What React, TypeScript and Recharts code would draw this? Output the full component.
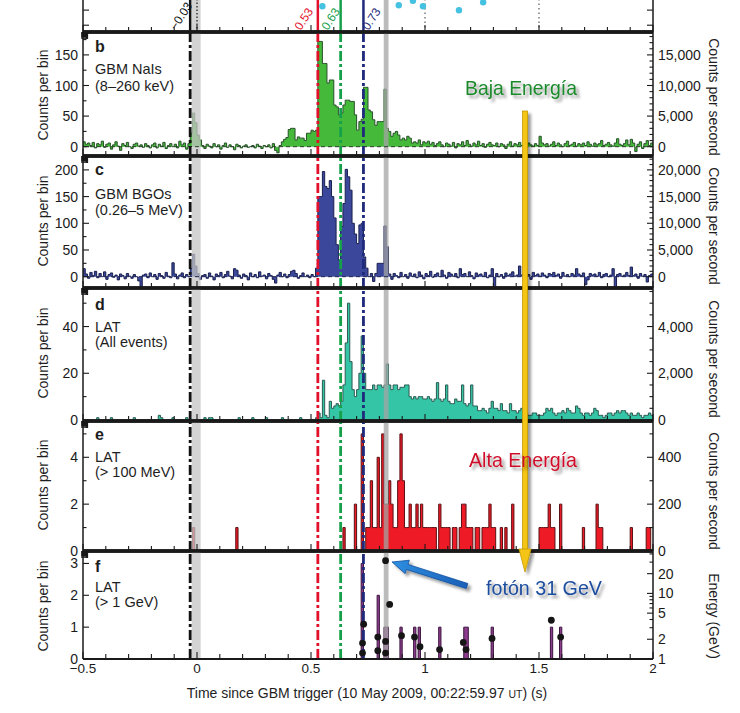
import React from 'react';
import { ComposedChart, Area, Scatter, XAxis, YAxis, ReferenceLine, ReferenceArea } from 'recharts';

const FONT = '"Liberation Sans", Arial, Helvetica, sans-serif';
const INK = '#1a1a1a';
const W = 740;
const H = 713;
const PLOT_LEFT = 83;
const PLOT_RIGHT = 653;
const PAD = 10;

// 10 ms bins starting at -0.5 s
const BIN_START = -0.5;
const BIN_WIDTH = 0.01;

// b: GBM NaIs, counts per bin
const naiCounts = [
  8, 4, 6, 2, 7, -2, 5, 3, 9, -1,
  4, 6, -4, 3, 8, 1, -6, 5, 2, 7,
  0, -3, 4, 6, 1, 3, -1, 5, 2, -2,
  3, 6, -2, 4, 1, 7, -3, 2, 5, 0,
  4, -2, 9, 3, 6, -4, 5, 22, 55, 39,
  19, 11, 2, -3, 4, 1, -2, 5, 0, 3,
  -4, 2, 6, -1, 3, 0, -5, 4, 2, -2,
  1, 3, -1, 0, 2, -2, 4, 1, -3, 2,
  0, 3, -2, 5, -6, -10, 2, 8, 12, 15,
  28, 30, 30, 11, 16, 14, 14, 10, 22, 22,
  27, 25, 27, 172, 172, 136, 136, 104, 109, 109,
  68, 65, 52, 55, 68, 76, 76, 74, 74, 52,
  27, 41, 45, 97, 97, 60, 57, 44, 35, 41,
  41, 41, 94, 30, 25, 17, 22, 25, 19, 11,
  14, 11, 17, 14, 6, 8, 6, 11, 3, 8,
  6, 9, 4, 7, 2, 5, 8, 3, 0, 6,
  4, 1, 7, -2, 5, 3, 8, 2, 10, 4,
  1, 6, 3, 9, 2, 5, -1, 4, 7, 3,
  2, 6, 0, 5, 3, -3, 4, 8, 1, 5,
  3, 7, 2, 4, -2, 6, 3, 1, 5, 2,
  17, 6, 3, 5, 1, 4, 8, 2, 6, 3,
  0, 5, 9, 2, 4, 7, 1, 5, 3, 6,
  2, 8, 4, 1, 6, 3, 5, 10, 2, 4,
  7, 3, 1, 6, 13, 4, 2, 5, 11, 3,
  12, 6, -8, 4, 8, -3, 5, 10, 2, 6,
];

// c: GBM BGOs, counts per bin
const bgoCounts = [
  15, 5, -3, 8, 2, 10, -2, 6, 0, 9,
  -5, 4, 7, -1, 3, -6, 5, 2, -4, 6,
  1, -3, 4, 0, -8, -20, 3, 5, -2, 7,
  0, 4, -5, 6, 2, -3, 8, 1, -2, 26,
  5, -4, 3, 7, -2, 4, 0, 15, 42, 20,
  6, -5, 2, 4, -3, 7, 1, -6, 5, 2,
  8, -2, 4, 10, 1, -4, 15, 12, 3, -3,
  5, 2, -6, 7, 0, 4, -2, 9, 1, 3,
  -4, 6, 2, -5, -12, 3, 8, 0, 5, -2,
  4, 10, 12, 6, -3, 2, 7, 0, 3, -2,
  4, 0, 16, 150, 150, 197, 169, 165, 180, 150,
  110, 60, 31, 94, 137, 201, 187, 162, 100, 80,
  62, 97, 100, 37, 16, 0, 6, -9, 6, 25,
  25, 25, 95, 56, 5, -5, 6, 2, -2, 8,
  0, 4, -3, 7, 1, 5, -2, 9, 3, -4,
  6, 2, 10, -1, 4, 7, 0, 12, 3, -3,
  8, 5, 1, 6, -2, 15, 4, 6, 0, 9,
  2, -4, 7, 3, 5, 1, 8, -2, 3, 15,
  -20, 6, 0, 4, -3, 7, 2, 5, 9, 1,
  3, 20, 3, 6, 0, 4, -5, 8, 2, 5,
  1, 7, 3, -2, 6, 4, 8, 2, 5, -3,
  8, 1, 4, 0, 6, 3, 15, 5, 2, 7,
  -15, -6, 6, 3, 5, 1, 8, -2, 4, 6,
  0, 3, 15, -20, 4, 6, 1, 3, 8, 2,
  18, 2, 5, -3, 6, 1, 4, -10, 2, 5,
];

// d: LAT all events, counts per bin
const latAllCounts = [
  0, 0, 0, 0, 0, 0, 1, 0, 0, 0,
  0, 0, 1, 0, 0, 0, 0, 0, 0, 0,
  0, 0, 1, 0, 0, 0, 0, 0, 0, 0,
  0, 0, 0, 2, 1, 0, 0, 0, 0, 1,
  0, 0, 0, 0, 0, 1, 0, 0, 0, 0,
  0, 0, 0, 1, 0, 1, 1, 0, 0, 0,
  0, 0, 0, 0, 0, 0, 0, 0, 1, 0,
  0, 0, 0, 0, 1, 0, 0, 0, 0, 0,
  1, 0, 0, 0, 0, 0, 0, 1, 0, 0,
  0, 0, 0, 0, 0, 1, 0, 0, 0, 0,
  0, 0, 1, 3, 1, 17, 2, 1, 8, 5,
  6, 7, 6, 8, 15, 33, 50, 25, 13, 10,
  13, 20, 36, 20, 13, 13, 13, 15, 13, 15,
  15, 14, 15, 24, 15, 13, 15, 15, 13, 14,
  14, 15, 15, 10, 9, 10, 9, 10, 10, 9,
  9, 10, 9, 8, 9, 16, 9, 8, 9, 15,
  8, 7, 7, 9, 8, 8, 15, 7, 6, 7,
  15, 6, 6, 4, 4, 5, 4, 3, 5, 8,
  5, 5, 4, 7, 4, 4, 3, 7, 4, 4,
  3, 4, 5, 3, 3, 2, 2, 3, 3, 2,
  2, 2, 3, 5, 4, 5, 3, 2, 3, 3,
  4, 3, 5, 4, 3, 3, 6, 5, 3, 2,
  3, 3, 2, 3, 5, 4, 2, 2, 1, 2,
  3, 3, 2, 3, 4, 3, 4, 4, 3, 2,
  3, 2, 2, 3, 2, 1, 2, 2, 3, 2,
];

// e: LAT > 100 MeV, bins with counts (bin start time, counts)
const lat100Times = [
  -0.02, 0.17, 0.64, 0.69, 0.72,
  0.74, 0.75, 0.76, 0.77, 0.78, 0.79, 0.8, 0.81, 0.82, 0.83, 0.84, 0.85, 0.86,
  0.87, 0.88, 0.89, 0.9, 0.91, 0.92, 0.93, 0.94, 0.95, 0.96, 0.97, 0.98, 0.99,
  1.0, 1.01, 1.02, 1.03, 1.04, 1.06, 1.07, 1.08, 1.09, 1.1, 1.12, 1.13,
  1.15, 1.16, 1.17, 1.18, 1.19, 1.2, 1.22, 1.23, 1.25, 1.26, 1.27, 1.28, 1.29, 1.3,
  1.33, 1.35, 1.38, 1.5, 1.51, 1.52, 1.53, 1.54, 1.55, 1.56, 1.59,
  1.69, 1.75, 1.76, 1.77, 1.9, 1.97, 1.98,
];
const lat100Counts = [
  1, 1, 1, 2, 5,
  1, 1, 3, 1, 1, 4, 1, 5, 2, 2, 3, 2, 1,
  1, 3, 5, 3, 1, 1, 2, 1, 1, 2, 1, 2, 1,
  1, 1, 1, 1, 1, 2, 1, 1, 1, 1, 1, 1,
  1, 2, 2, 1, 1, 1, 1, 1, 1, 1, 1, 2, 1, 1,
  1, 1, 2, 1, 1, 1, 1, 2, 1, 1, 2,
  1, 2, 1, 1, 1, 1, 1,
];

// f: LAT > 1 GeV
const lat1GeVTimes = [0.72, 0.79, 0.82, 0.83, 0.89, 0.95, 0.97, 1.06, 1.17, 1.18, 1.29, 1.55, 1.59];
const lat1GeVCounts = [3, 2, 1, 1, 1, 1, 1, 1, 1, 1, 1, 1, 1];
const photonTimes = [
  0.726, 0.726, 0.731, 0.793, 0.793, 0.827, 0.827, 0.827, 0.845,
  0.897, 0.954, 0.978, 1.064, 1.168, 1.18, 1.294, 1.554, 1.595,
];
const photonEnergies = [
  1.23, 1.75, 3.4, 1.34, 2.16, 1.23, 1.85, 31.5, 6.8,
  2.27, 2.16, 1.54, 1.39, 1.79, 1.39, 2.06, 3.9, 2.16,
];

// a: bottom strip of the panel above
const panelATimes = [0.55, 0.885, 0.947, 0.991, 1.149, 1.255];
const panelARates = [1.26, 1.32, 1.62, 1.26, 0.99, 1.52];
const panelAGuideTimes = [0, 1, 1.5];

const markerTimes = [-0.03, 0.53, 0.63, 0.73];
const markerLabels = ['\u22120.03', '0.53', '0.63', '0.73'];
const markerColors = ['#111111', '#e3102b', '#16a04a', '#1f2a7c'];
const grayBands = [[-0.023, 0.016], [0.819, 0.84]];
const grayBandColors = ['#c4c4c4', '#a4a4a4'];

const xTickValues = Array.from({ length: 26 }, (_, k) => Math.round((-0.5 + k * 0.1) * 10) / 10);
const xTickLabels = ['\u22120.5', '0', '0.5', '1', '1.5', '2'];

const toRows = (counts: number[]) => [
  ...counts.map((v, i) => ({ t: Math.round((BIN_START + i * BIN_WIDTH) * 100) / 100, v })),
  { t: 2, v: counts[counts.length - 1] },
];
const denseFrom = (times: number[], counts: number[]) => {
  const out = naiCounts.map(() => 0);
  times.forEach((t, k) => {
    out[Math.round((t - BIN_START) / BIN_WIDTH)] = counts[k];
  });
  return out;
};
const steps = (lo: number, hi: number, step: number) => {
  const out: number[] = [];
  for (let v = lo; v <= hi + 1e-9; v += step) out.push(Math.round(v * 1000) / 1000);
  return out;
};

const naiRows = toRows(naiCounts);
const bgoRows = toRows(bgoCounts);
const latAllRows = toRows(latAllCounts);
const lat100Rows = toRows(denseFrom(lat100Times, lat100Counts));
const lat1GeVRows = toRows(denseFrom(lat1GeVTimes, lat1GeVCounts));
const photonRows = photonTimes.map((t, k) => ({ t, e: photonEnergies[k] }));
const panelARows = panelATimes.map((t, k) => ({ t, r: panelARates[k] }));

const thousands = (v: number) => v.toLocaleString('en-US');
const plain = (v: number) => String(v);

const xTick = (side: 'top' | 'bottom', labels: boolean) => (p: any) => {
  const v = p.payload.value;
  const major = Math.abs(v * 2 - Math.round(v * 2)) < 1e-6;
  const dir = side === 'bottom' ? -1 : 1;
  return (
    <g>
      <line x1={p.x} x2={p.x} y1={p.y} y2={p.y + dir * (major ? 7 : 5)} stroke={INK} strokeWidth={1.1} />
      {labels && major ? (
        <text x={p.x} y={p.y + 14} textAnchor="middle" fontSize={13.5} fontFamily={FONT} fill={INK}>
          {xTickLabels[Math.round((v + 0.5) * 2)]}
        </text>
      ) : null}
    </g>
  );
};

const yTick = (side: 'left' | 'right', majors: number[], fmt?: (v: number) => string) => (p: any) => {
  const v = p.payload.value;
  const major = majors.includes(v);
  const dir = side === 'left' ? 1 : -1;
  return (
    <g>
      <line x1={p.x} x2={p.x + dir * (major ? 6 : 3.5)} y1={p.y} y2={p.y} stroke={INK} strokeWidth={1.1} />
      {major && fmt ? (
        <text
          x={p.x - dir * 5}
          y={p.y}
          dy="0.36em"
          textAnchor={side === 'left' ? 'end' : 'start'}
          fontSize={14}
          fontFamily={FONT}
          fill={INK}
        >
          {fmt(v)}
        </text>
      ) : null}
    </g>
  );
};

type FrameOpts = {
  domain: [number, number];
  leftTicks: number[];
  leftMajors: number[];
  leftFmt?: (v: number) => string;
  rightDomain: [number, number];
  rightTicks: number[];
  rightMajors: number[];
  rightFmt?: (v: number) => string;
  rightLog?: boolean;
  bottomLabels?: boolean;
  bottomWidth?: number;
  noTop?: boolean;
};

// axes get a 1px box so they render; margins are reduced by the same amount
function frame(o: FrameOpts) {
  const els = [
    <XAxis
      key="xb"
      type="number"
      dataKey="t"
      domain={[-0.5, 2]}
      allowDataOverflow
      ticks={xTickValues}
      interval={0}
      height={1}
      tickSize={0}
      tickMargin={0}
      tickLine={false}
      axisLine={{ stroke: INK, strokeWidth: o.bottomWidth ?? 3.5 }}
      tick={xTick('bottom', !!o.bottomLabels)}
    />,
    <YAxis
      key="yl"
      type="number"
      domain={o.domain}
      allowDataOverflow
      ticks={o.leftTicks}
      interval={0}
      width={1}
      tickSize={0}
      tickMargin={0}
      tickLine={false}
      axisLine={{ stroke: INK, strokeWidth: 1.5 }}
      tick={yTick('left', o.leftMajors, o.leftFmt)}
    />,
    <YAxis
      key="yr"
      yAxisId="r"
      orientation="right"
      type="number"
      scale={o.rightLog ? 'log' : 'linear'}
      domain={o.rightDomain}
      allowDataOverflow
      ticks={o.rightTicks}
      interval={0}
      width={1}
      tickSize={0}
      tickMargin={0}
      tickLine={false}
      axisLine={{ stroke: INK, strokeWidth: 1.5 }}
      tick={yTick('right', o.rightMajors, o.rightFmt)}
    />,
  ];
  if (!o.noTop) {
    els.push(
      <XAxis
        key="xt"
        xAxisId="top"
        orientation="top"
        type="number"
        domain={[-0.5, 2]}
        allowDataOverflow
        ticks={xTickValues}
        interval={0}
        height={1}
        tickSize={0}
        tickMargin={0}
        tickLine={false}
        axisLine={{ stroke: INK, strokeWidth: 3.5 }}
        tick={xTick('top', false)}
      />
    );
  }
  return els;
}

function bands() {
  return grayBands.map((b, k) => (
    <ReferenceArea key={'band' + k} x1={b[0]} x2={b[1]} fill={grayBandColors[k]} fillOpacity={0.75} stroke="none" />
  ));
}

function markerLines() {
  return markerTimes.map((t, k) => (
    <ReferenceLine
      key={'mk' + k}
      x={t}
      stroke={markerColors[k]}
      strokeWidth={2.8}
      strokeDasharray="10 3 3 3"
    />
  ));
}

function Panel({ top, bottom, extra = 0, data, hasTop = true, children }: any) {
  const h = bottom - top + 2 * PAD + extra;
  return (
    <div style={{ position: 'absolute', left: 0, top: top - PAD, width: W, height: h }}>
      <ComposedChart
        width={W}
        height={h}
        data={data}
        margin={{
          top: hasTop ? PAD - 1 : PAD,
          bottom: PAD + extra - 1,
          left: PLOT_LEFT - 1,
          right: W - PLOT_RIGHT - 1,
        }}
      >
        {children}
      </ComposedChart>
    </div>
  );
}

function histogram(fill: string, stroke: string) {
  return (
    <Area
      type="stepAfter"
      dataKey="v"
      baseValue={0}
      fill={fill}
      fillOpacity={1}
      stroke={stroke}
      strokeWidth={1}
      dot={false}
      activeDot={false}
      isAnimationActive={false}
    />
  );
}

const markerLabelOffsets = [-14, -17, -13, 5];

function arrowPoints(tail: number[], tip: number[], shaft: number, head: number, headLen: number) {
  const dx = tip[0] - tail[0];
  const dy = tip[1] - tail[1];
  const len = Math.hypot(dx, dy);
  const ux = dx / len;
  const uy = dy / len;
  const nx = -uy;
  const ny = ux;
  const bx = tip[0] - ux * headLen;
  const by = tip[1] - uy * headLen;
  const pts = [
    [tail[0] + nx * shaft, tail[1] + ny * shaft],
    [bx + nx * shaft, by + ny * shaft],
    [bx + nx * head, by + ny * head],
    tip,
    [bx - nx * head, by - ny * head],
    [bx - nx * shaft, by - ny * shaft],
    [tail[0] - nx * shaft, tail[1] - ny * shaft],
  ];
  return pts.map((p) => p[0].toFixed(1) + ',' + p[1].toFixed(1)).join(' ');
}

const panelText = [
  { letter: 'b', lines: ['GBM NaIs', '(8\u2013260 keV)'], ys: [52, 74, 91] },
  { letter: 'c', lines: ['GBM BGOs', '(0.26\u20135 MeV)'], ys: [175, 199, 215] },
  { letter: 'd', lines: ['LAT', '(All events)'], ys: [310, 332, 347] },
  { letter: 'e', lines: ['LAT', '(> 100 MeV)'], ys: [440, 462, 477] },
  { letter: 'f', lines: ['LAT', '(> 1 GeV)'], ys: [572, 592, 607] },
];
const leftTitles = [95, 221, 353, 485, 606];
const rightTitles = [
  { text: 'Counts per second', y: 97 },
  { text: 'Counts per second', y: 226 },
  { text: 'Counts per second', y: 359 },
  { text: 'Counts per second', y: 491 },
  { text: 'Energy (GeV)', y: 616 },
];

export default function App() {
  return (
    <div
      style={{
        position: 'absolute',
        left: 0,
        top: 0,
        width: W,
        height: H,
        background: '#ffffff',
        overflow: 'hidden',
        fontFamily: FONT,
      }}
    >
      {/* a: lower edge of the panel above */}
      <Panel top={0} bottom={32} data={panelARows} hasTop={false}>
        {bands()}
        {panelAGuideTimes.map((t, k) => (
          <ReferenceLine
            key={'g' + k}
            x={t}
            stroke={k === 0 ? '#222' : '#666'}
            strokeWidth={1.3}
            strokeDasharray={k === 0 ? '1.5 2' : '1.5 3'}
          />
        ))}
        {markerTimes.map((t, k) => (
          <ReferenceLine
            key={'am' + k}
            x={t}
            stroke={markerColors[k]}
            strokeWidth={2.5}
            label={(lp: any) => {
              const vb = lp && lp.viewBox;
              if (!vb) return null;
              const x0 = vb.x + markerLabelOffsets[k];
              const y0 = vb.y + vb.height - 1;
              return (
                <text
                  transform={`translate(${x0},${y0}) rotate(-57)`}
                  fontSize={12}
                  fontFamily={FONT}
                  fill={markerColors[k]}
                >
                  {markerLabels[k]}
                </text>
              );
            }}
          />
        ))}
        <Scatter
          dataKey="r"
          fill="#45c1e2"
          isAnimationActive={false}
          shape={(p: any) => <circle cx={p.cx} cy={p.cy} r={3.2} fill="#45c1e2" />}
        />
        {frame({
          domain: [-0.45, 1.67],
          leftTicks: [0, 1],
          leftMajors: [0, 1],
          rightDomain: [-0.45, 1.67],
          rightTicks: [0, 1],
          rightMajors: [0, 1],
          noTop: true,
        })}
      </Panel>

      {/* b: GBM NaIs */}
      <Panel top={32} bottom={156} data={naiRows}>
        {histogram('#45b93a', '#28512a')}
        <ReferenceLine y={0} stroke="#2c3d2c" strokeWidth={1} strokeDasharray="4 3" />
        {bands()}
        {markerLines()}
        {frame({
          domain: [-15.2, 187.4],
          leftTicks: steps(0, 175, 25),
          leftMajors: [0, 50, 100, 150],
          leftFmt: plain,
          rightDomain: [-1520, 18740],
          rightTicks: steps(0, 18000, 1000),
          rightMajors: [0, 5000, 10000, 15000],
          rightFmt: thousands,
        })}
      </Panel>

      {/* c: GBM BGOs */}
      <Panel top={156} bottom={288} data={bgoRows}>
        {histogram('#3a479b', '#1b2050')}
        <ReferenceLine y={0} stroke="#1e2450" strokeWidth={1} strokeDasharray="4 3" />
        {bands()}
        {markerLines()}
        {frame({
          domain: [-21.2, 226],
          leftTicks: steps(0, 200, 25),
          leftMajors: [0, 50, 100, 150, 200],
          leftFmt: plain,
          rightDomain: [-2120, 22600],
          rightTicks: steps(0, 22000, 1000),
          rightMajors: [0, 5000, 10000, 15000, 20000],
          rightFmt: thousands,
        })}
      </Panel>

      {/* d: LAT all events */}
      <Panel top={288} bottom={421} data={latAllRows}>
        {histogram('#33c5a6', '#2c5b52')}
        {bands()}
        {markerLines()}
        {frame({
          domain: [-0.43, 56.5],
          leftTicks: steps(0, 50, 10),
          leftMajors: [0, 20, 40],
          leftFmt: plain,
          rightDomain: [-43, 5650],
          rightTicks: steps(0, 5500, 500),
          rightMajors: [0, 2000, 4000],
          rightFmt: thousands,
        })}
      </Panel>

      {/* e: LAT > 100 MeV */}
      <Panel top={421} bottom={551} data={lat100Rows}>
        {histogram('#ee1a26', '#5a1013')}
        {bands()}
        {markerLines()}
        {frame({
          domain: [0, 5.55],
          leftTicks: [0, 1, 2, 3, 4, 5],
          leftMajors: [0, 2, 4],
          leftFmt: plain,
          rightDomain: [0, 555],
          rightTicks: [0, 100, 200, 300, 400, 500],
          rightMajors: [0, 200, 400],
          rightFmt: plain,
        })}
      </Panel>

      {/* f: LAT > 1 GeV */}
      <Panel top={551} bottom={659} extra={44} data={lat1GeVRows}>
        {histogram('#8d3d8d', '#3b143e')}
        {bands()}
        {markerLines()}
        <Scatter
          data={photonRows}
          dataKey="e"
          yAxisId="r"
          fill="#151515"
          isAnimationActive={false}
          shape={(p: any) => <circle cx={p.cx} cy={p.cy} r={3.4} fill="#151515" />}
        />
        {frame({
          domain: [0, 3.39],
          leftTicks: [0, 1, 2, 3],
          leftMajors: [0, 1, 2, 3],
          leftFmt: plain,
          rightDomain: [1, 44.3],
          rightTicks: [1, 2, 3, 4, 5, 6, 7, 8, 9, 10, 20, 30, 40],
          rightMajors: [1, 2, 5, 10, 20],
          rightFmt: plain,
          rightLog: true,
          bottomLabels: true,
          bottomWidth: 2,
        })}
      </Panel>

      <svg
        width={W}
        height={H}
        style={{ position: 'absolute', left: 0, top: 0, pointerEvents: 'none' }}
        fontFamily={FONT}
      >
        <defs>
          <filter id="soft" x="-30%" y="-30%" width="160%" height="160%">
            <feGaussianBlur in="SourceAlpha" stdDeviation="1.8" />
            <feOffset dx="3" dy="3" result="off" />
            <feComponentTransfer>
              <feFuncA type="linear" slope="0.4" />
            </feComponentTransfer>
            <feMerge>
              <feMergeNode />
              <feMergeNode in="SourceGraphic" />
            </feMerge>
          </filter>
          <linearGradient id="blueArrow" x1="0" y1="0" x2="1" y2="0">
            <stop offset="0" stopColor="#2f8fe0" />
            <stop offset="1" stopColor="#1a5fb8" />
          </linearGradient>
        </defs>

        {panelText.map((p) => (
          <g key={p.letter} fill="#1e1e1e">
            <text x={95} y={p.ys[0]} fontSize={16} fontWeight="bold">
              {p.letter}
            </text>
            <text x={95} y={p.ys[1]} fontSize={14.5}>
              {p.lines[0]}
            </text>
            <text x={95} y={p.ys[2]} fontSize={14.5}>
              {p.lines[1]}
            </text>
          </g>
        ))}

        {leftTitles.map((y, k) => (
          <text
            key={'lt' + k}
            transform={`translate(43,${y}) rotate(-90)`}
            textAnchor="middle"
            dominantBaseline="central"
            fontSize={14}
            fill="#1e1e1e"
          >
            Counts per bin
          </text>
        ))}
        {rightTitles.map((r, k) => (
          <text
            key={'rt' + k}
            transform={`translate(714,${r.y}) rotate(90)`}
            textAnchor="middle"
            dominantBaseline="central"
            fontSize={14}
            fill="#1e1e1e"
          >
            {r.text}
          </text>
        ))}

        <text x={367} y={698} textAnchor="middle" fontSize={14} fill="#1e1e1e">
          Time since GBM trigger (10 May 2009, 00:22:59.97 <tspan fontSize={10.5}>UT</tspan>) (s)
        </text>

        <g filter="url(#soft)">
          <rect x={522.6} y={111} width={5} height={440} fill="#f4c414" stroke="#c79a00" strokeWidth={0.8} />
          <polygon points="519,549 531,549 525,572" fill="#f4c414" stroke="#c79a00" strokeWidth={0.8} />
        </g>
        <g filter="url(#soft)">
          <polygon
            points={arrowPoints([467, 586], [392, 562], 2.6, 7, 16)}
            fill="url(#blueArrow)"
            stroke="#0d4f9e"
            strokeWidth={0.8}
          />
        </g>

        <g filter="url(#soft)" fontSize={21}>
          <text x={521} y={95} textAnchor="middle" fill="#1b8a2c" textLength={112} lengthAdjust="spacingAndGlyphs">
            Baja Energía
          </text>
          <text x={523} y={467} textAnchor="middle" fill="#cf1129" textLength={108} lengthAdjust="spacingAndGlyphs">
            Alta Energía
          </text>
          <text x={544} y={595} textAnchor="middle" fill="#1c4d9e" textLength={116} lengthAdjust="spacingAndGlyphs">
            fotón 31 GeV
          </text>
        </g>
      </svg>
    </div>
  );
}
